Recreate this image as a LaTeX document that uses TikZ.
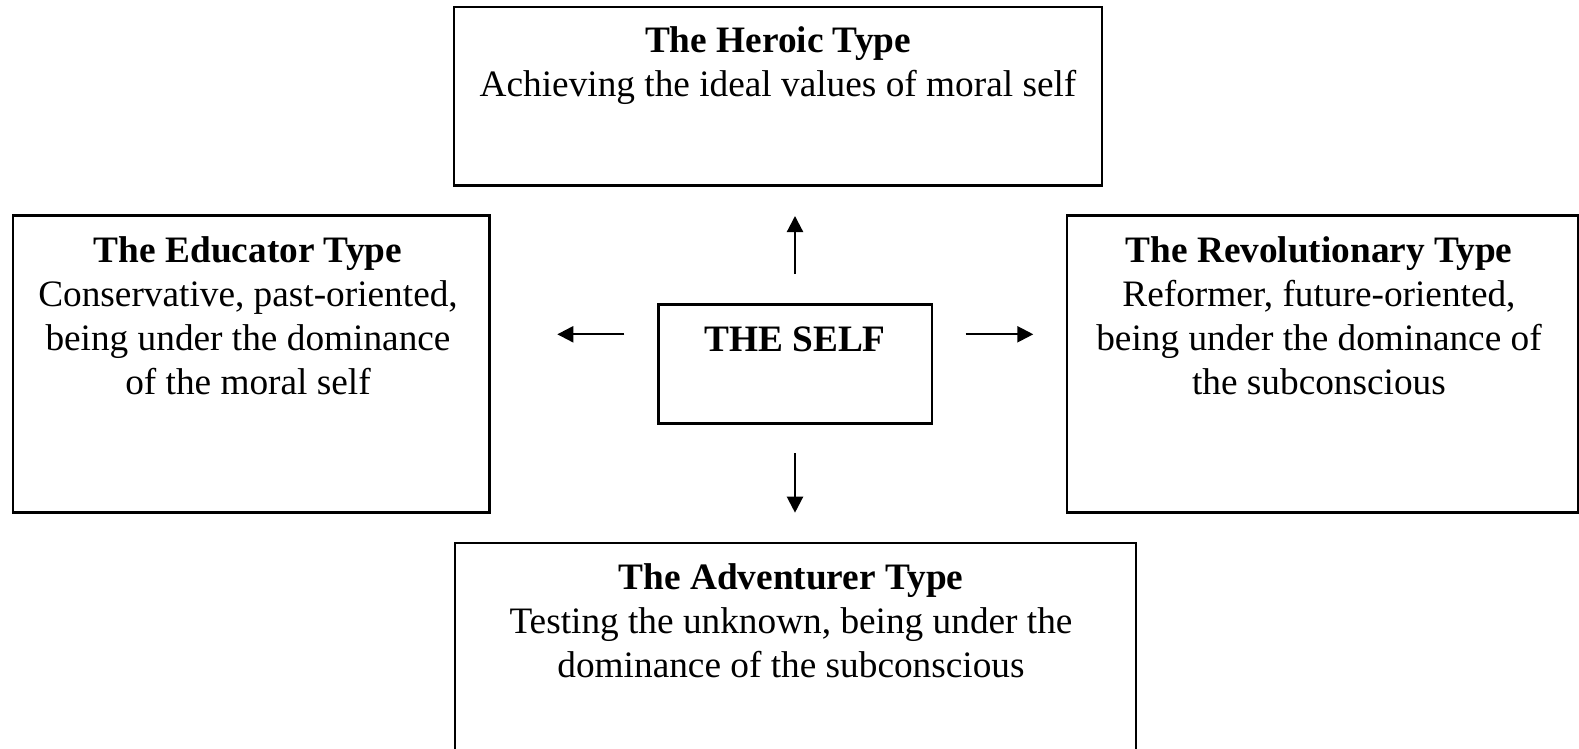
\documentclass[tikz,border=0pt]{standalone}
\usepackage{fontspec}
\setmainfont{Liberation Serif}
\usetikzlibrary{arrows.meta}
\begin{document}
\begin{tikzpicture}[x=0.5pt,y=-0.5pt,
  box/.style={draw, line width=1.2pt, rectangle, inner sep=0pt, outer sep=0pt},
  txt/.style={align=center, inner sep=0pt, anchor=base, font=\fontsize{18.65pt}{22pt}\selectfont},
  arr/.style={-{Triangle[length=8pt,width=8pt]}, line width=1.1pt}]
\useasboundingbox (0,0) rectangle (1579,749);
\clip (0,0) rectangle (1579,749);
% boxes
\node[box, minimum width=323.85pt, minimum height=89.15pt] (hero) at (777.85,96.15) {};
\node[box, minimum width=238.3pt, minimum height=148.5pt] (edu) at (251,363.8) {};
\node[box, minimum width=255.5pt, minimum height=148.4pt] (rev) at (1322.2,363.9) {};
\node[box, minimum width=136.7pt, minimum height=59.5pt] (self) at (795,363.8) {};
\node[box, minimum width=340.5pt, minimum height=128.65pt] (adv) at (795.5,671.35) {};
% texts (base anchor = baseline of the last line)
\node[txt] (herot) at (778,97) {\textbf{The Heroic Type}\\Achieving the ideal values of moral self};
\node[txt] (edut) at (248,394) {\textbf{The Educator Type}\\Conservative, past-oriented,\\being under the dominance\\of the moral self};
\node[txt] (revt) at (1319,394) {\textbf{The Revolutionary Type}\\Reformer, future-oriented,\\being under the dominance of\\the subconscious};
\node[txt] (selft) at (795,351) {\textbf{THE SELF}};
\node[txt] (advt) at (791,677.5) {\textbf{The Adventurer Type}\\Testing the unknown, being under the\\dominance of the subconscious};
% arrows
\draw[arr, shorten <=15.15pt, shorten >=15.35pt] (self.north) -- (self.north |- hero.south);
\draw[arr, shorten <=15pt, shorten >=15pt] (self.south) -- (self.south |- adv.north);
\draw[arr, shorten <=17pt, shorten >=34pt] ([yshift=14.75pt]self.west) -- ([yshift=14.75pt]self.west -| edu.east);
\draw[arr, shorten <=17pt, shorten >=16.7pt] ([yshift=14.75pt]self.east) -- ([yshift=14.75pt]self.east -| rev.west);
\end{tikzpicture}
\end{document}
